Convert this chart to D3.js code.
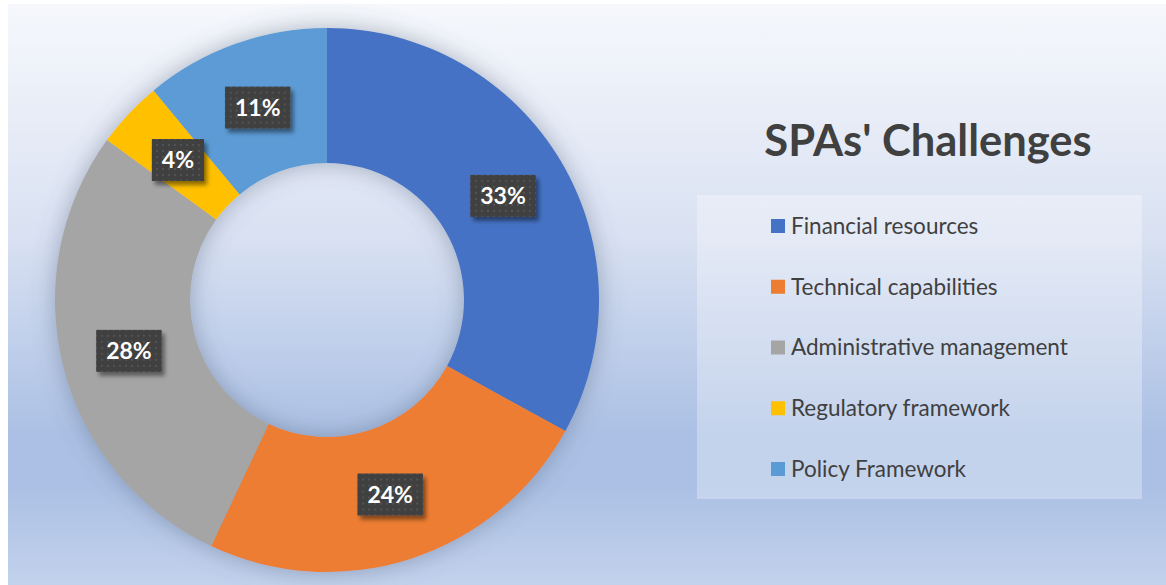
<!DOCTYPE html>
<html>
<head>
<meta charset="utf-8">
<script src="https://cdn.jsdelivr.net/npm/d3@7"></script>
<style>
    body { margin: 0; background: #ffffff; }
    svg { display: block; }
    text { font-family: Lato, "Open Sans", sans-serif; }
</style>
</head>
<body>
<svg id="chart" width="1166" height="585"></svg>
<script>
    // chart data
    var categories = ["Financial resources", "Technical capabilities", "Administrative management",
        "Regulatory framework", "Policy Framework"];
    var shares = [33, 24, 28, 4, 11];
    var labels = ["33%", "24%", "28%", "4%", "11%"];
    var colors = ["#4472c4", "#ed7d31", "#a5a5a5", "#ffc000", "#5b9bd5"];
    var title = "SPAs' Challenges";

    var svg = d3.select("#chart");
    var defs = svg.append("defs");

    // background gradient (office style light gradient)
    var grad = defs.append("linearGradient").attr("id", "bg")
        .attr("x1", 0).attr("y1", 0).attr("x2", 0).attr("y2", 1);
    grad.append("stop").attr("offset", "0%").attr("stop-color", "#f6f8fc");
    grad.append("stop").attr("offset", "40%").attr("stop-color", "#d9e1f2");
    grad.append("stop").attr("offset", "74%").attr("stop-color", "#abc0e4");
    grad.append("stop").attr("offset", "83%").attr("stop-color", "#abc0e4");
    grad.append("stop").attr("offset", "100%").attr("stop-color", "#c3d2ec");

    // soft shadow round the ring
    var ringShadow = defs.append("filter").attr("id", "ringShadow")
        .attr("x", "-20%").attr("y", "-20%").attr("width", "140%").attr("height", "140%");
    ringShadow.append("feGaussianBlur").attr("in", "SourceAlpha").attr("stdDeviation", 12).attr("result", "b");
    ringShadow.append("feFlood").attr("flood-color", "#50607a").attr("flood-opacity", 0.45);
    ringShadow.append("feComposite").attr("in2", "b").attr("operator", "in").attr("result", "s");
    var m1 = ringShadow.append("feMerge");
    m1.append("feMergeNode").attr("in", "s");
    m1.append("feMergeNode").attr("in", "SourceGraphic");

    // label box shadow
    var boxShadow = defs.append("filter").attr("id", "boxShadow")
        .attr("x", "-30%").attr("y", "-30%").attr("width", "170%").attr("height", "170%");
    boxShadow.append("feGaussianBlur").attr("in", "SourceAlpha").attr("stdDeviation", 2).attr("result", "b");
    boxShadow.append("feOffset").attr("in", "b").attr("dx", 3).attr("dy", 4).attr("result", "o");
    boxShadow.append("feFlood").attr("flood-color", "#000").attr("flood-opacity", 0.45);
    boxShadow.append("feComposite").attr("in2", "o").attr("operator", "in").attr("result", "s");
    var m2 = boxShadow.append("feMerge");
    m2.append("feMergeNode").attr("in", "s");
    m2.append("feMergeNode").attr("in", "SourceGraphic");

    // dotted fill for the label boxes
    var pat = defs.append("pattern").attr("id", "dots")
        .attr("patternUnits", "userSpaceOnUse").attr("width", 6).attr("height", 6);
    pat.append("rect").attr("width", 6).attr("height", 6).attr("fill", "#404040");
    pat.append("rect").attr("x", 2).attr("y", 2).attr("width", 2).attr("height", 2).attr("fill", "#525252");

    svg.append("rect")
        .attr("x", 8).attr("y", 4)
        .attr("width", 1158).attr("height", 581)
        .attr("fill", "url(#bg)");

    // donut
    var cx = 327, cy = 300, outerR = 272, innerR = 137;
    var pie = d3.pie().sort(null).value(function(d) { return d; });
    var arc = d3.arc().innerRadius(innerR).outerRadius(outerR);
    var labelArc = d3.arc().innerRadius((innerR + outerR) / 2).outerRadius((innerR + outerR) / 2);
    var color = d3.scaleOrdinal().domain(categories).range(colors);

    var arcs = pie(shares);
    var g = svg.append("g").attr("transform", "translate(" + cx + "," + cy + ")");

    g.append("g").attr("filter", "url(#ringShadow)")
        .selectAll("path")
        .data(arcs)
        .enter().append("path")
        .attr("d", arc)
        .attr("fill", function(d, i) { return color(categories[i]); });

    var lab = g.selectAll(".lab")
        .data(arcs)
        .enter().append("g")
        .attr("class", "lab")
        .attr("transform", function(d) {
            var c = labelArc.centroid(d);
            return "translate(" + c[0] + "," + c[1] + ")";
        });

    lab.append("rect").attr("class", "box")
        .attr("fill", "url(#dots)")
        .attr("filter", "url(#boxShadow)");
    lab.append("text")
        .attr("text-anchor", "middle")
        .attr("dy", "0.36em")
        .style("font-size", "23px")
        .style("font-weight", "bold")
        .attr("fill", "#ffffff")
        .text(function(d, i) { return labels[i]; });
    lab.each(function() {
        var t = d3.select(this).select("text").node().getBBox();
        d3.select(this).select("rect")
            .attr("x", -t.width / 2 - 10).attr("y", -21)
            .attr("width", t.width + 20).attr("height", 42);
    });

    // title
    svg.append("text")
        .attr("x", 928).attr("y", 156)
        .attr("text-anchor", "middle")
        .style("font-size", "43.5px")
        .style("font-weight", "bold")
        .attr("fill", "#404040")
        .text(title);

    // legend
    svg.append("rect")
        .attr("x", 697).attr("y", 195)
        .attr("width", 445).attr("height", 304)
        .attr("fill", "#ffffff").attr("fill-opacity", 0.3);

    var rowY = d3.scalePoint().domain(categories).range([226, 469]);
    var leg = svg.selectAll(".leg")
        .data(categories)
        .enter().append("g")
        .attr("class", "leg")
        .attr("transform", function(d) { return "translate(771," + rowY(d) + ")"; });
    leg.append("rect")
        .attr("x", 0).attr("y", -7)
        .attr("width", 14).attr("height", 14)
        .attr("fill", function(d) { return color(d); });
    leg.append("text")
        .attr("x", 20).attr("dy", "0.35em")
        .style("font-size", "22.5px")
        .attr("fill", "#404040")
        .text(function(d) { return d; });
</script>
</body>
</html>
